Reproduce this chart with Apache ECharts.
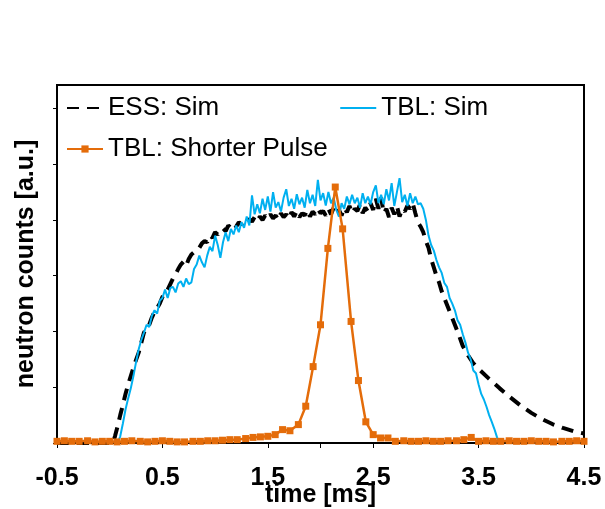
<!DOCTYPE html>
<html><head><meta charset="utf-8">
<script src="https://cdn.jsdelivr.net/npm/echarts@6/dist/echarts.min.js"></script>
<style>html,body{margin:0;padding:0;background:#fff}#c{width:605px;height:509px}</style>
</head><body><div id="c"></div>
<script>
// Tick labels / tick marks
const xTickLabels = [-0.5, 0.5, 1.5, 2.5, 3.5, 4.5];
const xTickMarks = [-0.5, 0.5, 1.5, 2.0, 2.5, 3.5, 4.5];
const yTickMarks = [0, 1, 2, 3, 4, 5, 6];
const seriesNames = ['ESS: Sim', 'TBL: Sim', 'TBL: Shorter Pulse'];

// ESS: Sim (black dashed)
const essTime = [
  -0.5, 0.03,
  0.05, 0.075, 0.1, 0.125, 0.15, 0.175, 0.2, 0.225,
  0.25, 0.275, 0.3, 0.325, 0.35, 0.375, 0.4, 0.425,
  0.45, 0.475, 0.5, 0.525, 0.55, 0.575, 0.6, 0.625,
  0.65, 0.675, 0.7, 0.725, 0.75, 0.775, 0.8, 0.825,
  0.85, 0.875, 0.9, 0.925, 0.95, 0.975, 1.0, 1.025,
  1.05, 1.075, 1.1, 1.125, 1.15, 1.175, 1.2, 1.225,
  1.25, 1.275, 1.3, 1.325, 1.35, 1.375, 1.4, 1.425,
  1.45, 1.475, 1.5, 1.525, 1.55, 1.575, 1.6, 1.625,
  1.65, 1.675, 1.7, 1.725, 1.75, 1.775, 1.8, 1.825,
  1.85, 1.875, 1.9, 1.925, 1.95, 1.975, 2.0, 2.025,
  2.05, 2.075, 2.1, 2.125, 2.15, 2.175, 2.2, 2.225,
  2.25, 2.275, 2.3, 2.325, 2.35, 2.375, 2.4, 2.425,
  2.45, 2.475, 2.5, 2.525, 2.55, 2.575, 2.6, 2.625,
  2.65, 2.675, 2.7, 2.725, 2.75, 2.775, 2.8, 2.825,
  2.85, 2.875, 2.9, 2.925, 2.95, 2.975, 3.0, 3.025,
  3.05, 3.075, 3.1, 3.125, 3.15, 3.175, 3.2,
  3.25, 3.3, 3.35, 3.4, 3.45, 3.5, 3.6, 3.7,
  3.8, 3.9, 4.0, 4.1, 4.2, 4.3, 4.4, 4.5
];
const essValues = [
  0, 0,
  0.12, 0.3, 0.5, 0.68, 0.88, 1.05, 1.2, 1.35,
  1.49, 1.62, 1.8, 1.98, 2.05, 2.12, 2.25, 2.35,
  2.42, 2.5, 2.62, 2.7, 2.75, 2.85, 2.95, 3.02,
  3.12, 3.2, 3.25, 3.18, 3.3, 3.38, 3.42, 3.47,
  3.5, 3.58, 3.62, 3.6, 3.72, 3.68, 3.78, 3.74,
  3.8, 3.85, 3.8, 3.9, 3.86, 3.93, 3.88, 3.96,
  3.92, 3.98, 3.94, 4.02, 3.97, 4.05, 3.98, 4.06,
  4.0, 4.08, 4.02, 4.1, 4.03, 4.08, 4.0, 4.12,
  4.05, 4.1, 4.02, 4.14, 4.06, 4.16, 4.05, 4.12,
  4.08, 4.18, 4.06, 4.15, 4.1, 4.2, 4.12, 4.16,
  4.08, 4.2, 4.1, 4.22, 4.12, 4.18, 4.08, 4.22,
  4.14, 4.25, 4.12, 4.2, 4.16, 4.28, 4.12, 4.22,
  4.15, 4.3, 4.18, 4.38, 4.2, 4.4, 4.12, 4.2,
  4.05, 4.22, 4.1, 4.25, 4.06, 4.2, 4.15, 4.26,
  4.2, 4.3, 4.12, 3.95, 3.88, 3.78, 3.62, 3.5,
  3.3, 3.15, 3.0, 2.88, 2.72, 2.6, 2.48,
  2.24, 2.0, 1.74, 1.57, 1.43, 1.33, 1.15, 0.98,
  0.82, 0.67, 0.54, 0.43, 0.34, 0.27, 0.21, 0.17
];

// TBL: Sim (blue)
const tblTime = [
  0.075, 0.1, 0.125, 0.15, 0.175, 0.2, 0.225, 0.25,
  0.275, 0.3, 0.325, 0.35, 0.375, 0.4, 0.425, 0.45,
  0.475, 0.5, 0.525, 0.55, 0.575, 0.6, 0.625, 0.65,
  0.675, 0.7, 0.725, 0.75, 0.775, 0.8, 0.825, 0.85,
  0.875, 0.9, 0.925, 0.95, 0.975, 1.0, 1.025, 1.05,
  1.075, 1.1, 1.125, 1.15, 1.175, 1.2, 1.225, 1.25,
  1.275, 1.3, 1.325, 1.35, 1.375, 1.4, 1.425, 1.45,
  1.475, 1.5, 1.525, 1.55, 1.575, 1.6, 1.625, 1.65,
  1.675, 1.7, 1.725, 1.75, 1.775, 1.8, 1.825, 1.85,
  1.875, 1.9, 1.925, 1.95, 1.975, 2.0, 2.025, 2.05,
  2.075, 2.1, 2.125, 2.15, 2.175, 2.2, 2.225, 2.25,
  2.275, 2.3, 2.325, 2.35, 2.375, 2.4, 2.425, 2.45,
  2.475, 2.5, 2.525, 2.55, 2.575, 2.6, 2.625, 2.65,
  2.675, 2.7, 2.725, 2.75, 2.775, 2.8, 2.825, 2.85,
  2.875, 2.9, 2.925, 2.95, 2.975, 3.0, 3.025, 3.05,
  3.075, 3.1, 3.125, 3.15, 3.175, 3.2, 3.225, 3.25,
  3.275, 3.3, 3.325, 3.35, 3.375, 3.4, 3.425, 3.45,
  3.475, 3.5, 3.525, 3.55, 3.575, 3.6, 3.625, 3.65,
  3.675, 3.7
];
const tblValues = [
  0, 0.12, 0.35, 0.6, 0.8, 0.98, 1.2, 1.45,
  1.68, 1.85, 1.98, 2.12, 2.08, 2.28, 2.38, 2.32,
  2.55, 2.6, 2.75, 2.6, 2.78, 2.8, 2.7, 2.86,
  2.9, 2.8, 2.95, 2.85, 2.88, 3.12, 3.2, 3.36,
  3.24, 3.15, 3.36, 3.52, 3.44, 3.72, 3.55, 3.32,
  3.6, 3.78, 3.62, 3.84, 3.74, 3.9, 3.78, 3.96,
  3.86, 4.06, 3.9, 4.44, 4.1, 4.28, 4.12, 4.38,
  4.18, 4.42, 4.15, 4.5, 4.22, 4.32, 4.15, 4.4,
  4.55, 4.25, 4.38, 4.2, 4.46, 4.28, 4.4, 4.22,
  4.54, 4.3, 4.45, 4.25, 4.72, 4.35, 4.48, 4.26,
  4.5, 4.3, 4.4, 4.18, 4.06, 4.3, 4.2, 4.42,
  4.28, 4.45, 4.3, 4.4, 4.22, 4.48, 4.3, 4.42,
  4.28, 4.5, 4.62, 4.3, 4.45, 4.28, 4.55, 4.35,
  4.66, 4.25, 4.5, 4.75, 4.32, 4.45, 4.25, 4.48,
  4.3, 4.42, 4.28, 4.3, 4.2, 4.0, 3.72, 3.55,
  3.45, 3.28, 3.15, 3.05, 2.87, 2.8, 2.6, 2.5,
  2.38, 2.2, 2.12, 1.95, 1.8, 1.62, 1.5, 1.3,
  1.25, 1.05, 0.88, 0.78, 0.65, 0.5, 0.38, 0.25,
  0.1, 0
];

// TBL: Shorter Pulse (orange, markers)
const pulseTime = [
  -0.5, -0.43, -0.36, -0.29, -0.21, -0.14, -0.07, 0.0, 0.07, 0.14,
  0.21, 0.29, 0.36, 0.43, 0.5, 0.57, 0.64, 0.71, 0.79, 0.86,
  0.93, 1.0, 1.07, 1.14, 1.21, 1.29, 1.36, 1.43, 1.5, 1.57,
  1.64, 1.71, 1.79, 1.86, 1.93, 2.0, 2.07, 2.14, 2.21, 2.29,
  2.36, 2.43, 2.5, 2.57, 2.64, 2.71, 2.79, 2.86, 2.93, 3.0,
  3.07, 3.14, 3.21, 3.29, 3.36, 3.43, 3.5, 3.57, 3.64, 3.71,
  3.79, 3.86, 3.93, 4.0, 4.07, 4.14, 4.21, 4.29, 4.36, 4.43,
  4.5
];
const pulseValues = [
  0.03, 0.04, 0.03, 0.03, 0.04, 0.02, 0.03, 0.03, 0.02, 0.03,
  0.04, 0.03, 0.02, 0.03, 0.04, 0.03, 0.02, 0.02, 0.03, 0.03,
  0.04, 0.04, 0.05, 0.06, 0.06, 0.08, 0.1, 0.11, 0.12, 0.15,
  0.24, 0.22, 0.33, 0.66, 1.37, 2.12, 3.49, 4.59, 3.84, 2.18,
  1.12, 0.38, 0.15, 0.09, 0.09, 0.03, 0.04, 0.03, 0.03, 0.04,
  0.03, 0.03, 0.04, 0.04, 0.06, 0.1, 0.03, 0.04, 0.03, 0.03,
  0.04, 0.03, 0.03, 0.04, 0.03, 0.03, 0.02, 0.03, 0.03, 0.04,
  0.03
];

function pairs(t, v) { return t.map((x, i) => [x, v[i]]); }
const FONT = "'Liberation Sans', Arial, sans-serif";

const chart = echarts.init(document.getElementById('c'), null, { renderer: 'canvas' });
chart.setOption({
  animation: false,
  backgroundColor: '#fff',
  grid: { left: 57, right: 21, top: 85, bottom: 66, show: true, borderColor: '#000', borderWidth: 2,
    containLabel: false, outerBoundsMode: 'none' },
  xAxis: {
    type: 'value', min: -0.5, max: 4.5,
    axisLine: { show: true, onZero: false, lineStyle: { color: '#000', width: 2 } },
    axisTick: { show: true, customValues: xTickMarks, length: 5, lineStyle: { color: '#000', width: 1 } },
    axisLabel: { customValues: xTickLabels, fontFamily: FONT, fontSize: 25, fontWeight: 'bold', color: '#000', margin: 23,
      formatter: v => Number(v).toFixed(1) },
    splitLine: { show: false },
    name: 'time [ms]', nameLocation: 'middle', nameGap: 40, nameMoveOverlap: false,
    nameTextStyle: { fontFamily: FONT, fontSize: 25, fontWeight: 'bold', color: '#000' }
  },
  yAxis: {
    type: 'value', min: 0, max: 6.42,
    axisLine: { show: true, onZero: false, lineStyle: { color: '#000', width: 2 } },
    axisTick: { show: true, customValues: yTickMarks, length: 4, lineStyle: { color: '#000', width: 1 } },
    axisLabel: { show: false },
    splitLine: { show: false },
    name: 'neutron counts [a.u.]', nameLocation: 'middle', nameGap: 18, nameRotate: 90, nameMoveOverlap: false,
    nameTextStyle: { fontFamily: FONT, fontSize: 25, fontWeight: 'bold', color: '#000' }
  },
  legend: [
    { data: [{ name: seriesNames[0], itemStyle: { opacity: 0 } }, { name: seriesNames[1], itemStyle: { opacity: 0 } }],
      left: 66, top: 95, padding: 0, itemWidth: 36, itemHeight: 10, itemGap: 120, selectedMode: false,
      textStyle: { fontFamily: FONT, fontSize: 26, color: '#000' } },
    { data: [seriesNames[2]],
      left: 66, top: 136, padding: 0, itemWidth: 36, itemHeight: 9, selectedMode: false,
      textStyle: { fontFamily: FONT, fontSize: 26, color: '#000' } }
  ],
  series: [
    { name: seriesNames[0], type: 'line', data: pairs(essTime, essValues), symbol: 'none',
      lineStyle: { color: '#000', width: 4, type: [12, 8], cap: 'butt' }, itemStyle: { color: '#000' },
      emphasis: { disabled: true }, z: 2 },
    { name: seriesNames[1], type: 'line', data: pairs(tblTime, tblValues), symbol: 'none',
      lineStyle: { color: '#00B0F0', width: 2 }, itemStyle: { color: '#00B0F0' },
      emphasis: { disabled: true }, z: 3 },
    { name: seriesNames[2], type: 'line', data: pairs(pulseTime, pulseValues), symbol: 'rect', symbolSize: 7,
      showSymbol: true, showAllSymbol: true,
      lineStyle: { color: '#E46C0A', width: 2.5 }, itemStyle: { color: '#E46C0A' },
      emphasis: { disabled: true }, z: 4 }
  ]
});
</script></body></html>
